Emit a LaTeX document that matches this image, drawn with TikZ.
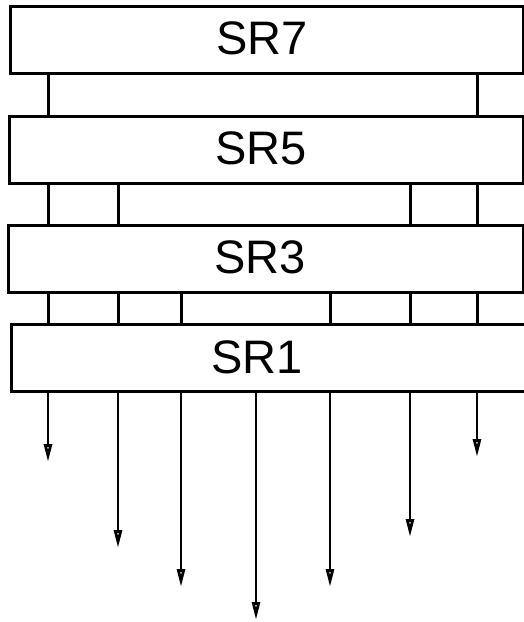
\documentclass[tikz,border=0pt]{standalone}
\usepackage{fontspec}
\setmainfont{Liberation Sans}
\usetikzlibrary{arrows.meta}
\begin{document}
\begin{tikzpicture}[x=1pt,y=-1pt,
  line width=3pt,
  regbox/.style={draw=black, line width=3pt, minimum width=#1, minimum height=67pt,
    inner sep=0pt, outer sep=0pt},
  reglabel/.style={font=\fontsize{47}{56}\selectfont, inner sep=0pt},
  link/.style={draw=black, line width=3pt},
  outarrow/.style={draw=black, line width=2.8pt,
    -{Triangle[length=18pt,width=8pt,fill=white,line join=miter]}}]
  \clip (0,0) rectangle (524,622);
  \useasboundingbox (0,0) rectangle (524,622);

  % register boxes
  \node[regbox=513pt] (sr7) at (266.5,40) {};
  \node[regbox=514pt] (sr5) at (266,149.5) {};
  \node[regbox=515pt] (sr3) at (265.5,258.5) {};
  \node[regbox=540pt] (sr1) at (281,358) {};

  \node[reglabel] (t7) at (262,38) {SR7};
  \node[reglabel] (t5) at (261,148) {SR5};
  \node[reglabel] (t3) at (260,257) {SR3};
  \node[reglabel] (t1) at (257,357) {SR1};

  % column positions of the bit lines
  \coordinate (ca) at (48,0);
  \coordinate (cb) at (118,0);
  \coordinate (cc) at (181,0);
  \coordinate (cd) at (256,0);
  \coordinate (ce) at (330,0);
  \coordinate (cf) at (410,0);
  \coordinate (cg) at (477,0);

  % arrow end points
  \coordinate (ea) at (48,462);
  \coordinate (eb) at (118,548);
  \coordinate (ec) at (181,587);
  \coordinate (ed) at (256,620);
  \coordinate (ee) at (330,587);
  \coordinate (ef) at (410,537);
  \coordinate (eg) at (477,457);

  % SR7 -> SR5
  \foreach \c in {ca,cg}
    \draw[link] (sr7.south -| \c) -- (sr5.north -| \c);
  % SR5 -> SR3
  \foreach \c in {ca,cb,cf,cg}
    \draw[link] (sr5.south -| \c) -- (sr3.north -| \c);
  % SR3 -> SR1
  \foreach \c in {ca,cb,cc,ce,cf,cg}
    \draw[link] (sr3.south -| \c) -- (sr1.north -| \c);
  % SR1 outputs
  \foreach \e in {ea,eb,ec,ed,ee,ef,eg}
    \draw[outarrow] (sr1.south -| \e) -- (\e);
\end{tikzpicture}
\end{document}
